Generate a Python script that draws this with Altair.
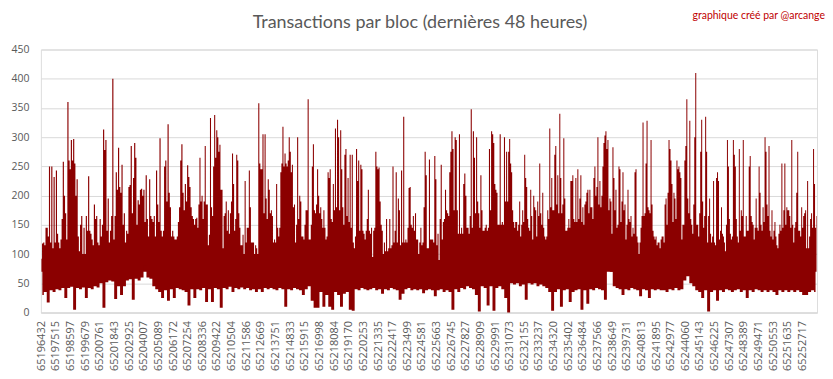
import altair as alt
import pandas as pd
import numpy as np

TITLE = "Transactions par bloc (dernières 48 heures)"
CREDIT = "graphique créé par @arcange"

tick_blocks = [65196432, 65197515, 65198597, 65199679, 65200761, 65201843, 65202925,
               65204007, 65205089, 65206172, 65207254, 65208336, 65209422, 65210504,
               65211586, 65212669, 65213751, 65214833, 65215915, 65216998, 65218084,
               65219170, 65220253, 65221335, 65222417, 65223499, 65224581, 65225663,
               65226745, 65227827, 65228909, 65229991, 65231073, 65232155, 65233237,
               65234320, 65235402, 65236484, 65237566, 65238649, 65239731, 65240813,
               65241895, 65242977, 65244060, 65245143, 65246225, 65247307, 65248389,
               65249471, 65250553, 65251635, 65252717]

# block range covered by each stretch of readings
seg_bounds = [65196400, 65207894, 65219388, 65230882, 65242376, 65253797]

# upper envelope of transactions per block, read stretch by stretch
tops_a = [92,118,120,115,145,145,130,250,120,250,110,232,120,243,135,120,110,125,160,258,
          200,170,125,360,260,245,295,260,297,255,200,228,130,105,150,165,100,145,100,165,
          140,233,140,135,125,115,185,160,165,120,115,160,130,150,313,278,295,140,195,120,
          140,165,400,125,165,240,210,282,215,205,253,150,170,120,140,135,215,218,285,170,
          230,290,265,150,192,185,210,212,200,210,155,235,160,130,228,165,160,155,165,130,
          243,185,155,298,140,130,140,250,260,190,322,205,180,130,140,130,125,125,130,155,
          180,260,288,205,175,220,190,252,232,215,180,165,160,150,160]
tops_b = [162,145,185,265,190,200,160,190,285,185,185,115,133,333,180,165,250,338,265,312,
          300,275,287,210,210,110,165,170,190,140,175,135,170,190,272,220,140,160,270,260,
          170,145,115,115,133,100,225,120,145,145,243,180,120,120,120,100,115,110,100,358,
          255,245,245,305,170,305,195,160,228,210,170,175,165,120,125,120,220,145,130,145,
          240,255,318,250,272,255,250,260,300,275,240,253,180,185,120,150,300,160,200,190,
          130,130,125,150,175,175,365,125,125,150,250,288,175,170,185,245,200,170,180,160,
          145,175,145,125,130,240,230,245,160,155,220,175,315,180,330,300,175,312,245,180,
          150,270,280,165,230,155,270,145]
tops_c = [270,120,110,130,280,225,260,140,253,245,140,135,125,140,160,210,140,135,145,95,
          140,145,275,250,245,248,190,150,140,100,120,105,160,105,110,160,110,115,250,120,
          140,240,120,195,175,115,243,120,335,120,125,120,145,213,215,150,145,165,140,170,
          125,125,100,120,145,115,120,180,275,235,110,110,262,125,125,125,120,268,228,115,
          135,90,160,253,125,155,160,210,175,170,165,240,275,310,280,175,300,295,175,135,
          305,135,145,135,220,238,200,145,145,135,165,348,145,310,265,170,300,190,170,145,
          235,175,140,140,145,150,140,145,280,175,310,305,290,220,210,205,150,150,305,150,
          155,150,300,190,275]
tops_d = [190,275,297,255,240,175,155,145,155,155,140,150,190,130,150,175,155,270,230,215,
          160,145,140,210,165,125,200,180,175,130,190,165,255,170,150,205,145,130,125,130,
          175,160,315,180,230,175,175,270,285,185,235,170,340,230,170,185,298,195,140,140,
          145,160,145,225,225,235,160,155,230,155,245,160,195,235,155,180,150,185,190,205,
          210,170,210,180,180,160,230,250,200,215,300,185,225,180,200,250,290,303,310,280,
          295,175,195,190,135,283,230,175,210,145,150,250,245,155,190,240,175,185,125,150,
          210,160,155,165,130,145,135,240,245,130,120,100,120,145,165,325,165,170,255,328,
          180,175,170,295,185,140,130,125,130,115,120,120,110,125,130]
tops_e = [130,120,185,195,150,205,295,280,260,220,155,205,195,160,260,245,250,240,230,125,
          150,150,260,285,365,195,170,328,160,150,135,185,300,410,150,150,130,170,275,330,
          190,145,165,335,275,120,165,195,135,120,130,225,120,115,230,240,225,125,140,180,
          135,130,120,105,150,295,250,160,135,125,130,295,270,250,160,130,120,280,140,175,
          165,295,130,130,165,140,140,250,268,165,155,150,125,145,195,145,140,250,205,150,
          140,180,155,300,275,185,165,285,140,130,175,125,140,155,130,115,110,135,150,140,
          255,145,175,255,150,180,175,175,165,145,295,150,120,145,155,205,275,140,140,130,
          180,145,165,170,175,110,225,110,130,160,170,145,280,220,145,165]

# lower envelope, read stretch by stretch
bots_a = [30,35,17,38,35,40,38,42,25,42,44,5,42,40,43,25,42,40,45,43,50,8,52,55,53,23,45,
          30,45,55,57,22,58,55,60,80,60,58,45,40,35,25,38,20,40,25,42,40,38,35,12,40,25]
bots_b = [40,38,42,18,40,18,42,40,8,42,40,44,35,42,40,43,40,42,38,40,35,40,35,42,40,42,40,
          38,42,40,10,40,38,42,40,38,30,40,45,20,8,8,35,10,30,10,5,35,30,10,32,35,5]
bots_c = [3,40,38,42,40,38,40,42,38,40,32,40,38,42,40,38,22,32,40,42,38,40,38,40,33,38,40,
          38,28,38,40,35,38,35,5,40,35,42,40,45,42,40,30,2,45,42,12,45,3,42,45,40,25]
bots_d = [0,50,48,50,45,48,22,50,48,50,45,48,45,42,35,3,35,40,10,38,40,18,35,38,40,5,38,
          15,40,38,42,40,38,22,72,70,45,42,40,30,40,38,42,40,38,28,40,38,25,40,38,40,38]
bots_e = [38,35,40,38,42,38,40,55,62,50,45,38,35,25,38,2,35,38,20,38,35,40,38,35,38,40,35,
          38,25,38,35,40,38,35,38,35,38,35,30,38,35,38,35,38,35,38,35,30,30,35,38,35]


def spread(lists):
    rows_x, rows_v = [], []
    for k, vals in enumerate(lists):
        lo, hi = seg_bounds[k], seg_bounds[k + 1]
        n = len(vals)
        step = (hi - lo) / n
        rows_x.extend(lo + (np.arange(n) + 0.5) * step)
        rows_v.extend(vals)
    return pd.DataFrame({"block": rows_x, "v": rows_v})


top_df = spread([tops_a, tops_b, tops_c, tops_d, tops_e])
bot_df = spread([bots_a, bots_b, bots_c, bots_d, bots_e])

RED = "#8B0000"
GRAY = "#595959"
GRID = "#D9D9D9"

x_enc = alt.X("block:Q",
              scale=alt.Scale(domain=[seg_bounds[0], seg_bounds[-1]], nice=False, zero=False),
              axis=alt.Axis(values=tick_blocks, labelAngle=-90, labelOverlap=False,
                            ticks=False, grid=False, domainColor=GRID, labelColor=GRAY,
                            labelFontSize=11, labelFont="Open Sans", labelPadding=8,
                            format="d", title=None, labelFlush=False, labelBound=False))
y_scale = alt.Scale(domain=[0, 450], nice=False)
y_axis = alt.Axis(values=list(range(0, 451, 50)), grid=True, gridColor=GRID, domain=False,
                  ticks=False, labelColor=GRAY, labelFontSize=10.5, labelFont="Open Sans",
                  labelPadding=12, title=None)

top_layer = alt.Chart(top_df).mark_area(interpolate="step", color=RED).encode(
    x=x_enc,
    y=alt.Y("v:Q", scale=y_scale, axis=y_axis),
    y2=alt.datum(70),
)
bot_layer = alt.Chart(bot_df).mark_area(interpolate="step", color=RED).encode(
    x=x_enc,
    y=alt.Y("v:Q", scale=y_scale, axis=y_axis),
    y2=alt.datum(90),
)
credit = alt.Chart(pd.DataFrame({"t": [CREDIT]})).mark_text(
    align="right", baseline="middle", color="#C00000", fontSize=10.5, font="Lato"
).encode(text="t:N", x=alt.value(787), y=alt.value(-34))

chart = alt.layer(top_layer, bot_layer, credit).properties(
    width=779, height=264,
    padding={"left": 2, "top": 2, "right": 0, "bottom": 0},
    title=alt.TitleParams(TITLE, fontSize=18, font="Lato", fontWeight="normal",
                          color=GRAY, anchor="middle", offset=-21, dx=-9),
).configure_view(stroke=None).configure(background="white")

chart.save("out.html", embed_options={"renderer": "svg", "actions": False})
